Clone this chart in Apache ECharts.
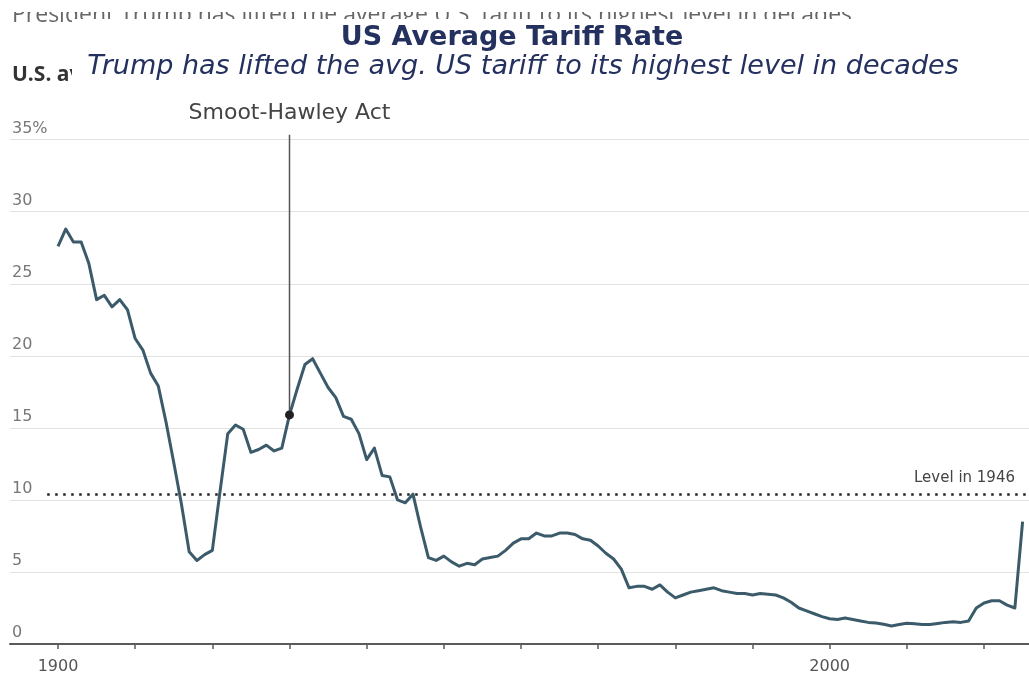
<!DOCTYPE html>
<html><head><meta charset="utf-8">
<script src="https://cdn.jsdelivr.net/npm/echarts@6/dist/echarts.min.js"></script>
<style>html,body{margin:0;padding:0;background:#fff}#c{width:1029px;height:677px}</style>
</head><body><div id="c"></div>
<script>
// ---- data ----
const years = [
 1900,1901,1902,1903,1904,1905,1906,1907,1908,1909,
 1910,1911,1912,1913,1914,1915,1916,1917,1918,1919,
 1920,1921,1922,1923,1924,1925,1926,1927,1928,1929,
 1930,1931,1932,1933,1934,1935,1936,1937,1938,1939,
 1940,1941,1942,1943,1944,1945,1946,1947,1948,1949,
 1950,1951,1952,1953,1954,1955,1956,1957,1958,1959,
 1960,1961,1962,1963,1964,1965,1966,1967,1968,1969,
 1970,1971,1972,1973,1974,1975,1976,1977,1978,1979,
 1980,1981,1982,1983,1984,1985,1986,1987,1988,1989,
 1990,1991,1992,1993,1994,1995,1996,1997,1998,1999,
 2000,2001,2002,2003,2004,2005,2006,2007,2008,2009,
 2010,2011,2012,2013,2014,2015,2016,2017,2018,2019,
 2020,2021,2022,2023,2024,2025];
const tariffRate = [
 27.6,28.8,27.9,27.9,26.4,23.9,24.2,23.4,23.9,23.2,
 21.2,20.4,18.8,17.9,15.4,12.6,9.7,6.4,5.8,6.2,
 6.5,10.6,14.6,15.2,14.9,13.3,13.5,13.8,13.4,13.6,
 15.9,17.7,19.4,19.8,18.8,17.8,17.1,15.8,15.6,14.6,
 12.8,13.6,11.7,11.6,10.0,9.8,10.4,8.1,6.0,5.8,
 6.1,5.7,5.4,5.6,5.5,5.9,6.0,6.1,6.5,7.0,
 7.3,7.3,7.7,7.5,7.5,7.7,7.7,7.6,7.3,7.2,
 6.8,6.3,5.9,5.2,3.9,4.0,4.0,3.8,4.1,3.6,
 3.2,3.4,3.6,3.7,3.8,3.9,3.7,3.6,3.5,3.5,
 3.4,3.5,3.45,3.4,3.2,2.9,2.5,2.3,2.1,1.9,
 1.75,1.7,1.8,1.7,1.6,1.5,1.45,1.37,1.25,1.35,
 1.44,1.4,1.35,1.35,1.42,1.5,1.55,1.5,1.6,2.5,
 2.85,3.0,3.0,2.7,2.5,8.5];
const xTickYears = [1900,1910,1920,1930,1940,1950,1960,1970,1980,1990,2000,2010,2020];
const xLabelYears = [1900,2000];
const annotationYear = 1930;
const annotationText = 'Smoot-Hawley Act';
const levelYear = 1946;
const levelText = 'Level in 1946';
const titleText = 'US Average Tariff Rate';
const subtitleText = 'Trump has lifted the avg. US tariff to its highest level in decades';
const underHeadline = 'President Trump has lifted the average U.S. tariff to its highest level in decades';
const underLabel = 'U.S. average tariff rate';

const seriesData = years.map((y, i) => [y, tariffRate[i]]);
const levelValue = tariffRate[years.indexOf(levelYear)];
const annValue = tariffRate[years.indexOf(annotationYear)];

const X_MIN = 1893.78, X_MAX = 2025.83;
const axisFont = 'DejaVu Sans';

const chart = echarts.init(document.getElementById('c'), null, {renderer: 'canvas'});
chart.setOption({
  animation: false,
  backgroundColor: '#ffffff',
  grid: {left: 10, right: 0, top: 139.7, bottom: 33, containLabel: false},
  xAxis: {
    type: 'value', min: X_MIN, max: X_MAX,
    axisLine: {show: true, lineStyle: {color: '#5a5a5a', width: 2}},
    axisTick: {show: true, customValues: xTickYears, length: 5, lineStyle: {color: '#5a5a5a', width: 1.5}},
    axisLabel: {show: true, customValues: xLabelYears, color: '#555', fontSize: 16, fontFamily: axisFont, margin: 15,
      formatter: v => String(v)},
    splitLine: {show: false}
  },
  yAxis: {
    type: 'value', min: 0, max: 35, interval: 5,
    axisLine: {show: false}, axisTick: {show: false},
    axisLabel: {inside: true, margin: 2, color: '#777', fontSize: 16, fontFamily: axisFont,
      verticalAlign: 'bottom', align: 'left', padding: [0, 0, 3, 0],
      formatter: v => v === 35 ? '35%' : String(v)},
    splitLine: {show: true, lineStyle: {color: '#e2e2e2', width: 1}}
  },
  series: [{
    type: 'line', data: seriesData, showSymbol: false, symbol: 'none',
    lineStyle: {color: '#3c5b6a', width: 3, join: 'round'},
    z: 3,
    markLine: {
      silent: true, symbol: 'none', animation: false,
      lineStyle: {color: '#222', width: 2.5, type: [2.5, 5.5]},
      label: {show: false},
      data: [[{coord: [1898.6, levelValue]}, {coord: [X_MAX, levelValue]}]]
    }
  }]
});

function drawOverlay() {
  const pDot = chart.convertToPixel({gridIndex: 0}, [annotationYear, annValue]);
  const pTop = chart.convertToPixel({gridIndex: 0}, [annotationYear, 35]);
  const pLvl = chart.convertToPixel({gridIndex: 0}, [X_MAX, levelValue]);
  chart.setOption({
    graphic: [
      {type: 'text', z: 1, x: 12, y: 27,
       style: {text: underHeadline, font: '23px "Open Sans"', fill: '#666', textVerticalAlign: 'bottom'}},
      {type: 'rect', z: 2, shape: {x: 0, y: 0, width: 1029, height: 12}, style: {fill: '#fff'}},
      {type: 'text', z: 1, x: 12, y: 75,
       style: {text: underLabel, font: 'bold 21px "Open Sans"', fill: '#333', textVerticalAlign: 'middle'}},
      {type: 'rect', z: 2, shape: {x: 72, y: 19, width: 957, height: 74}, style: {fill: '#fff'}},
      {type: 'text', z: 5, x: 512, y: 38,
       style: {text: titleText, font: 'bold 27px "DejaVu Sans"', fill: '#24305e', textAlign: 'center', textVerticalAlign: 'middle'}},
      {type: 'text', z: 5, x: 523, y: 67,
       style: {text: subtitleText, font: 'italic 27px "DejaVu Sans"', fill: '#24305e', textAlign: 'center', textVerticalAlign: 'middle'}},
      {type: 'line', z: 6, shape: {x1: pDot[0], y1: pTop[1] - 5, x2: pDot[0], y2: pDot[1]},
       style: {stroke: '#555', lineWidth: 1.5}},
      {type: 'circle', z: 7, shape: {cx: pDot[0], cy: pDot[1], r: 4.5}, style: {fill: '#222'}},
      {type: 'text', z: 6, x: pDot[0], y: 113,
       style: {text: annotationText, font: '22px "DejaVu Sans"', fill: '#444', textAlign: 'center', textVerticalAlign: 'middle'}},
      {type: 'text', z: 6, x: pLvl[0] - 14, y: pLvl[1] - 16,
       style: {text: levelText, font: '15px "DejaVu Sans"', fill: '#444', textAlign: 'right', textVerticalAlign: 'middle'}}
    ]
  });
}
drawOverlay();
</script></body></html>
